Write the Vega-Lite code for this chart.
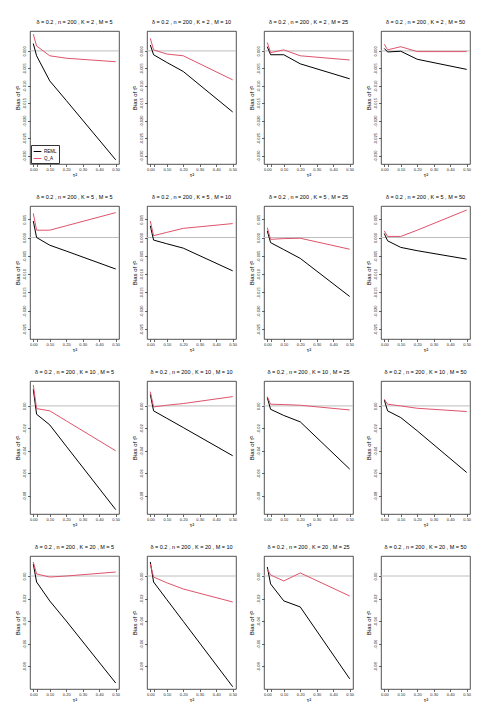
{
"$schema": "https://vega.github.io/schema/vega-lite/v6.json",
"padding": {"left": 14, "top": 19, "right": 5, "bottom": 5},
"datasets": {"d": [
{"K":2,"M":5,"tau2":0,"REML":0.0021,"Q_A":0.0048},{"K":2,"M":5,"tau2":0.02,"REML":-0.0014,"Q_A":0.0014},{"K":2,"M":5,"tau2":0.1,"REML":-0.0086,"Q_A":-0.0014},{"K":2,"M":5,"tau2":0.2,"REML":-0.0142,"Q_A":-0.0021},{"K":2,"M":5,"tau2":0.5,"REML":-0.0312,"Q_A":-0.0031},
{"K":2,"M":10,"tau2":0,"REML":0.0017,"Q_A":0.0036},{"K":2,"M":10,"tau2":0.02,"REML":-0.0011,"Q_A":0.0003},{"K":2,"M":10,"tau2":0.1,"REML":-0.0033,"Q_A":-0.0009},{"K":2,"M":10,"tau2":0.2,"REML":-0.0059,"Q_A":-0.0014},{"K":2,"M":10,"tau2":0.5,"REML":-0.0175,"Q_A":-0.0083},
{"K":2,"M":25,"tau2":0,"REML":0.0012,"Q_A":0.0024},{"K":2,"M":25,"tau2":0.02,"REML":-0.0011,"Q_A":-0.0005},{"K":2,"M":25,"tau2":0.1,"REML":-0.0011,"Q_A":0.0003},{"K":2,"M":25,"tau2":0.2,"REML":-0.0037,"Q_A":-0.0014},{"K":2,"M":25,"tau2":0.5,"REML":-0.008,"Q_A":-0.0026},
{"K":2,"M":50,"tau2":0,"REML":0.0007,"Q_A":0.0019},{"K":2,"M":50,"tau2":0.02,"REML":-0.0003,"Q_A":0.0003},{"K":2,"M":50,"tau2":0.1,"REML":-0.0001,"Q_A":0.0012},{"K":2,"M":50,"tau2":0.2,"REML":-0.0024,"Q_A":-0.0002},{"K":2,"M":50,"tau2":0.5,"REML":-0.0053,"Q_A":-0.0002},
{"K":5,"M":5,"tau2":0,"REML":0.0045,"Q_A":0.0066},{"K":5,"M":5,"tau2":0.02,"REML":0,"Q_A":0.002},{"K":5,"M":5,"tau2":0.1,"REML":-0.0021,"Q_A":0.002},{"K":5,"M":5,"tau2":0.2,"REML":-0.0037,"Q_A":0.0032},{"K":5,"M":5,"tau2":0.5,"REML":-0.0086,"Q_A":0.0068},
{"K":5,"M":10,"tau2":0,"REML":0.0032,"Q_A":0.0045},{"K":5,"M":10,"tau2":0.02,"REML":-0.0007,"Q_A":0.0005},{"K":5,"M":10,"tau2":0.1,"REML":-0.0017,"Q_A":0.0014},{"K":5,"M":10,"tau2":0.2,"REML":-0.0029,"Q_A":0.0025},{"K":5,"M":10,"tau2":0.5,"REML":-0.0091,"Q_A":0.0038},
{"K":5,"M":25,"tau2":0,"REML":0.0018,"Q_A":0.0027},{"K":5,"M":25,"tau2":0.02,"REML":-0.0014,"Q_A":-0.0005},{"K":5,"M":25,"tau2":0.1,"REML":-0.0033,"Q_A":-0.0003},{"K":5,"M":25,"tau2":0.2,"REML":-0.0057,"Q_A":-0.0002},{"K":5,"M":25,"tau2":0.5,"REML":-0.0161,"Q_A":-0.0032},
{"K":5,"M":50,"tau2":0,"REML":0.0011,"Q_A":0.0018},{"K":5,"M":50,"tau2":0.02,"REML":-0.0009,"Q_A":0.0003},{"K":5,"M":50,"tau2":0.1,"REML":-0.0027,"Q_A":0.0003},{"K":5,"M":50,"tau2":0.2,"REML":-0.0036,"Q_A":0.002},{"K":5,"M":50,"tau2":0.5,"REML":-0.0059,"Q_A":0.0075},
{"K":10,"M":5,"tau2":0,"REML":0.0148,"Q_A":0.0187},{"K":10,"M":5,"tau2":0.02,"REML":-0.0074,"Q_A":-0.0024},{"K":10,"M":5,"tau2":0.1,"REML":-0.0169,"Q_A":-0.0044},{"K":10,"M":5,"tau2":0.2,"REML":-0.0359,"Q_A":-0.0133},{"K":10,"M":5,"tau2":0.5,"REML":-0.0924,"Q_A":-0.04},
{"K":10,"M":10,"tau2":0,"REML":0.0104,"Q_A":0.0127},{"K":10,"M":10,"tau2":0.02,"REML":-0.0044,"Q_A":-0.0009},{"K":10,"M":10,"tau2":0.1,"REML":-0.011,"Q_A":0.0006},{"K":10,"M":10,"tau2":0.2,"REML":-0.0193,"Q_A":0.0021},{"K":10,"M":10,"tau2":0.5,"REML":-0.0444,"Q_A":0.0083},
{"K":10,"M":25,"tau2":0,"REML":0.0074,"Q_A":0.0083},{"K":10,"M":25,"tau2":0.02,"REML":-0.003,"Q_A":0.0015},{"K":10,"M":25,"tau2":0.1,"REML":-0.0085,"Q_A":0.0012},{"K":10,"M":25,"tau2":0.2,"REML":-0.0142,"Q_A":0.0006},{"K":10,"M":25,"tau2":0.5,"REML":-0.0563,"Q_A":-0.0036},
{"K":10,"M":50,"tau2":0,"REML":0.0053,"Q_A":0.0059},{"K":10,"M":50,"tau2":0.02,"REML":-0.0044,"Q_A":0.0015},{"K":10,"M":50,"tau2":0.1,"REML":-0.0104,"Q_A":0},{"K":10,"M":50,"tau2":0.2,"REML":-0.0222,"Q_A":-0.0021},{"K":10,"M":50,"tau2":0.5,"REML":-0.0593,"Q_A":-0.005},
{"K":20,"M":5,"tau2":0,"REML":0.0106,"Q_A":0.0124},{"K":20,"M":5,"tau2":0.02,"REML":-0.0053,"Q_A":0.0018},{"K":20,"M":5,"tau2":0.1,"REML":-0.0221,"Q_A":-0.0009},{"K":20,"M":5,"tau2":0.2,"REML":-0.0398,"Q_A":0},{"K":20,"M":5,"tau2":0.5,"REML":-0.0947,"Q_A":0.0035},
{"K":20,"M":10,"tau2":0,"REML":0.0124,"Q_A":0.0106},{"K":20,"M":10,"tau2":0.02,"REML":-0.0053,"Q_A":-0.0009},{"K":20,"M":10,"tau2":0.1,"REML":-0.0208,"Q_A":-0.006},{"K":20,"M":10,"tau2":0.2,"REML":-0.0401,"Q_A":-0.0115},{"K":20,"M":10,"tau2":0.5,"REML":-0.098,"Q_A":-0.023},
{"K":20,"M":25,"tau2":0,"REML":0.008,"Q_A":0.0062},{"K":20,"M":25,"tau2":0.02,"REML":-0.007,"Q_A":0.0009},{"K":20,"M":25,"tau2":0.1,"REML":-0.022,"Q_A":-0.0044},{"K":20,"M":25,"tau2":0.2,"REML":-0.0274,"Q_A":0.0027},{"K":20,"M":25,"tau2":0.5,"REML":-0.091,"Q_A":-0.0177}
]},
"data": {"name": "d"},
"columns": 4,
"spacing": {"row": 42, "column": 28},
"bounds": "flush",
"resolve": {"scale": {"color": "independent"}, "legend": {"color": "independent"}},
"concat": [
{"width":89,"height":133,"title":"δ = 0.2 , n = 200 , K = 2 , M = 5",
 "encoding":{"y":{"field":"bias","type":"quantitative","scale":{"domain":[-0.0324,0.0057],"nice":false,"zero":false},"axis":{"title":"Bias of τ̂²","labelOverlap":false,"values":[0,-0.005,-0.01,-0.015,-0.02,-0.025,-0.03],"labelExpr":"replace(format(datum.value, '.3f'), '−', '-')"}}},
 "layer":[
 {"data":{"values":[{"bias":0}]},"mark":{"type":"rule","color":"#BEBEBE","strokeWidth":1}},
 {"transform":[{"filter":"datum.K == 2 && datum.M == 5"},{"fold":["REML","Q_A"],"as":["est","bias"]}],"mark":{"type":"line","strokeWidth":1},"encoding":{
  "x":{"field":"tau2","type":"quantitative","scale":{"domain":[-0.02,0.52],"nice":false,"zero":false},"axis":{"title":"τ²","labelOverlap":false,"values":[0,0.02,0.1,0.2,0.3,0.4,0.5],"labelExpr":"datum.value == 0.02 ? '' : format(datum.value, '.2f')"}},
  "color":{"field":"est","type":"nominal","scale":{"domain":["REML","Q_A"],"range":["#000000","#DF536B"]},"legend":{"orient":"bottom-left","title":null,"symbolType":"stroke","strokeColor":"#333333","padding":2,"labelFontSize":4.5,"symbolSize":60,"symbolStrokeWidth":1,"rowPadding":0,"offset":1,"labelOffset":2,"cornerRadius":0,"fillColor":"white"}}}}
]},
{"width":89,"height":133,"title":"δ = 0.2 , n = 200 , K = 2 , M = 10",
 "encoding":{"y":{"field":"bias","type":"quantitative","scale":{"domain":[-0.0324,0.0057],"nice":false,"zero":false},"axis":{"title":"Bias of τ̂²","labelOverlap":false,"values":[0,-0.005,-0.01,-0.015,-0.02,-0.025,-0.03],"labelExpr":"replace(format(datum.value, '.3f'), '−', '-')"}}},
 "layer":[
 {"data":{"values":[{"bias":0}]},"mark":{"type":"rule","color":"#BEBEBE","strokeWidth":1}},
 {"transform":[{"filter":"datum.K == 2 && datum.M == 10"},{"fold":["REML","Q_A"],"as":["est","bias"]}],"mark":{"type":"line","strokeWidth":1},"encoding":{
  "x":{"field":"tau2","type":"quantitative","scale":{"domain":[-0.02,0.52],"nice":false,"zero":false},"axis":{"title":"τ²","labelOverlap":false,"values":[0,0.02,0.1,0.2,0.3,0.4,0.5],"labelExpr":"datum.value == 0.02 ? '' : format(datum.value, '.2f')"}},
  "color":{"field":"est","type":"nominal","scale":{"domain":["REML","Q_A"],"range":["#000000","#DF536B"]},"legend":null}}}
]},
{"width":89,"height":133,"title":"δ = 0.2 , n = 200 , K = 2 , M = 25",
 "encoding":{"y":{"field":"bias","type":"quantitative","scale":{"domain":[-0.0324,0.0057],"nice":false,"zero":false},"axis":{"title":"Bias of τ̂²","labelOverlap":false,"values":[0,-0.005,-0.01,-0.015,-0.02,-0.025,-0.03],"labelExpr":"replace(format(datum.value, '.3f'), '−', '-')"}}},
 "layer":[
 {"data":{"values":[{"bias":0}]},"mark":{"type":"rule","color":"#BEBEBE","strokeWidth":1}},
 {"transform":[{"filter":"datum.K == 2 && datum.M == 25"},{"fold":["REML","Q_A"],"as":["est","bias"]}],"mark":{"type":"line","strokeWidth":1},"encoding":{
  "x":{"field":"tau2","type":"quantitative","scale":{"domain":[-0.02,0.52],"nice":false,"zero":false},"axis":{"title":"τ²","labelOverlap":false,"values":[0,0.02,0.1,0.2,0.3,0.4,0.5],"labelExpr":"datum.value == 0.02 ? '' : format(datum.value, '.2f')"}},
  "color":{"field":"est","type":"nominal","scale":{"domain":["REML","Q_A"],"range":["#000000","#DF536B"]},"legend":null}}}
]},
{"width":89,"height":133,"title":"δ = 0.2 , n = 200 , K = 2 , M = 50",
 "encoding":{"y":{"field":"bias","type":"quantitative","scale":{"domain":[-0.0324,0.0057],"nice":false,"zero":false},"axis":{"title":"Bias of τ̂²","labelOverlap":false,"values":[0,-0.005,-0.01,-0.015,-0.02,-0.025,-0.03],"labelExpr":"replace(format(datum.value, '.3f'), '−', '-')"}}},
 "layer":[
 {"data":{"values":[{"bias":0}]},"mark":{"type":"rule","color":"#BEBEBE","strokeWidth":1}},
 {"transform":[{"filter":"datum.K == 2 && datum.M == 50"},{"fold":["REML","Q_A"],"as":["est","bias"]}],"mark":{"type":"line","strokeWidth":1},"encoding":{
  "x":{"field":"tau2","type":"quantitative","scale":{"domain":[-0.02,0.52],"nice":false,"zero":false},"axis":{"title":"τ²","labelOverlap":false,"values":[0,0.02,0.1,0.2,0.3,0.4,0.5],"labelExpr":"datum.value == 0.02 ? '' : format(datum.value, '.2f')"}},
  "color":{"field":"est","type":"nominal","scale":{"domain":["REML","Q_A"],"range":["#000000","#DF536B"]},"legend":null}}}
]},
{"width":89,"height":133,"title":"δ = 0.2 , n = 200 , K = 5 , M = 5",
 "encoding":{"y":{"field":"bias","type":"quantitative","scale":{"domain":[-0.0277,0.0086],"nice":false,"zero":false},"axis":{"title":"Bias of τ̂²","labelOverlap":false,"values":[0.005,0,-0.005,-0.01,-0.015,-0.02,-0.025],"labelExpr":"replace(format(datum.value, '.3f'), '−', '-')"}}},
 "layer":[
 {"data":{"values":[{"bias":0}]},"mark":{"type":"rule","color":"#BEBEBE","strokeWidth":1}},
 {"transform":[{"filter":"datum.K == 5 && datum.M == 5"},{"fold":["REML","Q_A"],"as":["est","bias"]}],"mark":{"type":"line","strokeWidth":1},"encoding":{
  "x":{"field":"tau2","type":"quantitative","scale":{"domain":[-0.02,0.52],"nice":false,"zero":false},"axis":{"title":"τ²","labelOverlap":false,"values":[0,0.02,0.1,0.2,0.3,0.4,0.5],"labelExpr":"datum.value == 0.02 ? '' : format(datum.value, '.2f')"}},
  "color":{"field":"est","type":"nominal","scale":{"domain":["REML","Q_A"],"range":["#000000","#DF536B"]},"legend":null}}}
]},
{"width":89,"height":133,"title":"δ = 0.2 , n = 200 , K = 5 , M = 10",
 "encoding":{"y":{"field":"bias","type":"quantitative","scale":{"domain":[-0.0277,0.0086],"nice":false,"zero":false},"axis":{"title":"Bias of τ̂²","labelOverlap":false,"values":[0.005,0,-0.005,-0.01,-0.015,-0.02,-0.025],"labelExpr":"replace(format(datum.value, '.3f'), '−', '-')"}}},
 "layer":[
 {"data":{"values":[{"bias":0}]},"mark":{"type":"rule","color":"#BEBEBE","strokeWidth":1}},
 {"transform":[{"filter":"datum.K == 5 && datum.M == 10"},{"fold":["REML","Q_A"],"as":["est","bias"]}],"mark":{"type":"line","strokeWidth":1},"encoding":{
  "x":{"field":"tau2","type":"quantitative","scale":{"domain":[-0.02,0.52],"nice":false,"zero":false},"axis":{"title":"τ²","labelOverlap":false,"values":[0,0.02,0.1,0.2,0.3,0.4,0.5],"labelExpr":"datum.value == 0.02 ? '' : format(datum.value, '.2f')"}},
  "color":{"field":"est","type":"nominal","scale":{"domain":["REML","Q_A"],"range":["#000000","#DF536B"]},"legend":null}}}
]},
{"width":89,"height":133,"title":"δ = 0.2 , n = 200 , K = 5 , M = 25",
 "encoding":{"y":{"field":"bias","type":"quantitative","scale":{"domain":[-0.0277,0.0086],"nice":false,"zero":false},"axis":{"title":"Bias of τ̂²","labelOverlap":false,"values":[0.005,0,-0.005,-0.01,-0.015,-0.02,-0.025],"labelExpr":"replace(format(datum.value, '.3f'), '−', '-')"}}},
 "layer":[
 {"data":{"values":[{"bias":0}]},"mark":{"type":"rule","color":"#BEBEBE","strokeWidth":1}},
 {"transform":[{"filter":"datum.K == 5 && datum.M == 25"},{"fold":["REML","Q_A"],"as":["est","bias"]}],"mark":{"type":"line","strokeWidth":1},"encoding":{
  "x":{"field":"tau2","type":"quantitative","scale":{"domain":[-0.02,0.52],"nice":false,"zero":false},"axis":{"title":"τ²","labelOverlap":false,"values":[0,0.02,0.1,0.2,0.3,0.4,0.5],"labelExpr":"datum.value == 0.02 ? '' : format(datum.value, '.2f')"}},
  "color":{"field":"est","type":"nominal","scale":{"domain":["REML","Q_A"],"range":["#000000","#DF536B"]},"legend":null}}}
]},
{"width":89,"height":133,"title":"δ = 0.2 , n = 200 , K = 5 , M = 50",
 "encoding":{"y":{"field":"bias","type":"quantitative","scale":{"domain":[-0.0277,0.0086],"nice":false,"zero":false},"axis":{"title":"Bias of τ̂²","labelOverlap":false,"values":[0.005,0,-0.005,-0.01,-0.015,-0.02,-0.025],"labelExpr":"replace(format(datum.value, '.3f'), '−', '-')"}}},
 "layer":[
 {"data":{"values":[{"bias":0}]},"mark":{"type":"rule","color":"#BEBEBE","strokeWidth":1}},
 {"transform":[{"filter":"datum.K == 5 && datum.M == 50"},{"fold":["REML","Q_A"],"as":["est","bias"]}],"mark":{"type":"line","strokeWidth":1},"encoding":{
  "x":{"field":"tau2","type":"quantitative","scale":{"domain":[-0.02,0.52],"nice":false,"zero":false},"axis":{"title":"τ²","labelOverlap":false,"values":[0,0.02,0.1,0.2,0.3,0.4,0.5],"labelExpr":"datum.value == 0.02 ? '' : format(datum.value, '.2f')"}},
  "color":{"field":"est","type":"nominal","scale":{"domain":["REML","Q_A"],"range":["#000000","#DF536B"]},"legend":null}}}
]},
{"width":89,"height":133,"title":"δ = 0.2 , n = 200 , K = 10 , M = 5",
 "encoding":{"y":{"field":"bias","type":"quantitative","scale":{"domain":[-0.0963,0.0222],"nice":false,"zero":false},"axis":{"title":"Bias of τ̂²","labelOverlap":false,"values":[0,-0.02,-0.04,-0.06,-0.08],"labelExpr":"replace(format(datum.value, '.2f'), '−', '-')"}}},
 "layer":[
 {"data":{"values":[{"bias":0}]},"mark":{"type":"rule","color":"#BEBEBE","strokeWidth":1}},
 {"transform":[{"filter":"datum.K == 10 && datum.M == 5"},{"fold":["REML","Q_A"],"as":["est","bias"]}],"mark":{"type":"line","strokeWidth":1},"encoding":{
  "x":{"field":"tau2","type":"quantitative","scale":{"domain":[-0.02,0.52],"nice":false,"zero":false},"axis":{"title":"τ²","labelOverlap":false,"values":[0,0.02,0.1,0.2,0.3,0.4,0.5],"labelExpr":"datum.value == 0.02 ? '' : format(datum.value, '.2f')"}},
  "color":{"field":"est","type":"nominal","scale":{"domain":["REML","Q_A"],"range":["#000000","#DF536B"]},"legend":null}}}
]},
{"width":89,"height":133,"title":"δ = 0.2 , n = 200 , K = 10 , M = 10",
 "encoding":{"y":{"field":"bias","type":"quantitative","scale":{"domain":[-0.0963,0.0222],"nice":false,"zero":false},"axis":{"title":"Bias of τ̂²","labelOverlap":false,"values":[0,-0.02,-0.04,-0.06,-0.08],"labelExpr":"replace(format(datum.value, '.2f'), '−', '-')"}}},
 "layer":[
 {"data":{"values":[{"bias":0}]},"mark":{"type":"rule","color":"#BEBEBE","strokeWidth":1}},
 {"transform":[{"filter":"datum.K == 10 && datum.M == 10"},{"fold":["REML","Q_A"],"as":["est","bias"]}],"mark":{"type":"line","strokeWidth":1},"encoding":{
  "x":{"field":"tau2","type":"quantitative","scale":{"domain":[-0.02,0.52],"nice":false,"zero":false},"axis":{"title":"τ²","labelOverlap":false,"values":[0,0.02,0.1,0.2,0.3,0.4,0.5],"labelExpr":"datum.value == 0.02 ? '' : format(datum.value, '.2f')"}},
  "color":{"field":"est","type":"nominal","scale":{"domain":["REML","Q_A"],"range":["#000000","#DF536B"]},"legend":null}}}
]},
{"width":89,"height":133,"title":"δ = 0.2 , n = 200 , K = 10 , M = 25",
 "encoding":{"y":{"field":"bias","type":"quantitative","scale":{"domain":[-0.0963,0.0222],"nice":false,"zero":false},"axis":{"title":"Bias of τ̂²","labelOverlap":false,"values":[0,-0.02,-0.04,-0.06,-0.08],"labelExpr":"replace(format(datum.value, '.2f'), '−', '-')"}}},
 "layer":[
 {"data":{"values":[{"bias":0}]},"mark":{"type":"rule","color":"#BEBEBE","strokeWidth":1}},
 {"transform":[{"filter":"datum.K == 10 && datum.M == 25"},{"fold":["REML","Q_A"],"as":["est","bias"]}],"mark":{"type":"line","strokeWidth":1},"encoding":{
  "x":{"field":"tau2","type":"quantitative","scale":{"domain":[-0.02,0.52],"nice":false,"zero":false},"axis":{"title":"τ²","labelOverlap":false,"values":[0,0.02,0.1,0.2,0.3,0.4,0.5],"labelExpr":"datum.value == 0.02 ? '' : format(datum.value, '.2f')"}},
  "color":{"field":"est","type":"nominal","scale":{"domain":["REML","Q_A"],"range":["#000000","#DF536B"]},"legend":null}}}
]},
{"width":89,"height":133,"title":"δ = 0.2 , n = 200 , K = 10 , M = 50",
 "encoding":{"y":{"field":"bias","type":"quantitative","scale":{"domain":[-0.0963,0.0222],"nice":false,"zero":false},"axis":{"title":"Bias of τ̂²","labelOverlap":false,"values":[0,-0.02,-0.04,-0.06,-0.08],"labelExpr":"replace(format(datum.value, '.2f'), '−', '-')"}}},
 "layer":[
 {"data":{"values":[{"bias":0}]},"mark":{"type":"rule","color":"#BEBEBE","strokeWidth":1}},
 {"transform":[{"filter":"datum.K == 10 && datum.M == 50"},{"fold":["REML","Q_A"],"as":["est","bias"]}],"mark":{"type":"line","strokeWidth":1},"encoding":{
  "x":{"field":"tau2","type":"quantitative","scale":{"domain":[-0.02,0.52],"nice":false,"zero":false},"axis":{"title":"τ²","labelOverlap":false,"values":[0,0.02,0.1,0.2,0.3,0.4,0.5],"labelExpr":"datum.value == 0.02 ? '' : format(datum.value, '.2f')"}},
  "color":{"field":"est","type":"nominal","scale":{"domain":["REML","Q_A"],"range":["#000000","#DF536B"]},"legend":null}}}
]},
{"width":89,"height":133,"title":"δ = 0.2 , n = 200 , K = 20 , M = 5",
 "encoding":{"y":{"field":"bias","type":"quantitative","scale":{"domain":[-0.1,0.0177],"nice":false,"zero":false},"axis":{"title":"Bias of τ̂²","labelOverlap":false,"values":[0,-0.02,-0.04,-0.06,-0.08],"labelExpr":"replace(format(datum.value, '.2f'), '−', '-')"}}},
 "layer":[
 {"data":{"values":[{"bias":0}]},"mark":{"type":"rule","color":"#BEBEBE","strokeWidth":1}},
 {"transform":[{"filter":"datum.K == 20 && datum.M == 5"},{"fold":["REML","Q_A"],"as":["est","bias"]}],"mark":{"type":"line","strokeWidth":1},"encoding":{
  "x":{"field":"tau2","type":"quantitative","scale":{"domain":[-0.02,0.52],"nice":false,"zero":false},"axis":{"title":"τ²","labelOverlap":false,"values":[0,0.02,0.1,0.2,0.3,0.4,0.5],"labelExpr":"datum.value == 0.02 ? '' : format(datum.value, '.2f')"}},
  "color":{"field":"est","type":"nominal","scale":{"domain":["REML","Q_A"],"range":["#000000","#DF536B"]},"legend":null}}}
]},
{"width":89,"height":133,"title":"δ = 0.2 , n = 200 , K = 20 , M = 10",
 "encoding":{"y":{"field":"bias","type":"quantitative","scale":{"domain":[-0.1,0.0177],"nice":false,"zero":false},"axis":{"title":"Bias of τ̂²","labelOverlap":false,"values":[0,-0.02,-0.04,-0.06,-0.08],"labelExpr":"replace(format(datum.value, '.2f'), '−', '-')"}}},
 "layer":[
 {"data":{"values":[{"bias":0}]},"mark":{"type":"rule","color":"#BEBEBE","strokeWidth":1}},
 {"transform":[{"filter":"datum.K == 20 && datum.M == 10"},{"fold":["REML","Q_A"],"as":["est","bias"]}],"mark":{"type":"line","strokeWidth":1},"encoding":{
  "x":{"field":"tau2","type":"quantitative","scale":{"domain":[-0.02,0.52],"nice":false,"zero":false},"axis":{"title":"τ²","labelOverlap":false,"values":[0,0.02,0.1,0.2,0.3,0.4,0.5],"labelExpr":"datum.value == 0.02 ? '' : format(datum.value, '.2f')"}},
  "color":{"field":"est","type":"nominal","scale":{"domain":["REML","Q_A"],"range":["#000000","#DF536B"]},"legend":null}}}
]},
{"width":89,"height":133,"title":"δ = 0.2 , n = 200 , K = 20 , M = 25",
 "encoding":{"y":{"field":"bias","type":"quantitative","scale":{"domain":[-0.1,0.0177],"nice":false,"zero":false},"axis":{"title":"Bias of τ̂²","labelOverlap":false,"values":[0,-0.02,-0.04,-0.06,-0.08],"labelExpr":"replace(format(datum.value, '.2f'), '−', '-')"}}},
 "layer":[
 {"data":{"values":[{"bias":0}]},"mark":{"type":"rule","color":"#BEBEBE","strokeWidth":1}},
 {"transform":[{"filter":"datum.K == 20 && datum.M == 25"},{"fold":["REML","Q_A"],"as":["est","bias"]}],"mark":{"type":"line","strokeWidth":1},"encoding":{
  "x":{"field":"tau2","type":"quantitative","scale":{"domain":[-0.02,0.52],"nice":false,"zero":false},"axis":{"title":"τ²","labelOverlap":false,"values":[0,0.02,0.1,0.2,0.3,0.4,0.5],"labelExpr":"datum.value == 0.02 ? '' : format(datum.value, '.2f')"}},
  "color":{"field":"est","type":"nominal","scale":{"domain":["REML","Q_A"],"range":["#000000","#DF536B"]},"legend":null}}}
]},
{"width":89,"height":133,"title":"δ = 0.2 , n = 200 , K = 20 , M = 50",
 "encoding":{"y":{"field":"bias","type":"quantitative","scale":{"domain":[-0.1,0.0177],"nice":false,"zero":false},"axis":{"title":"Bias of τ̂²","labelOverlap":false,"values":[0,-0.02,-0.04,-0.06,-0.08],"labelExpr":"replace(format(datum.value, '.2f'), '−', '-')"}}},
 "layer":[
 {"data":{"values":[{"bias":0}]},"mark":{"type":"rule","color":"#BEBEBE","strokeWidth":1}},
 {"transform":[{"filter":"datum.K == 20 && datum.M == 50"},{"fold":["REML","Q_A"],"as":["est","bias"]}],"mark":{"type":"line","strokeWidth":1},"encoding":{
  "x":{"field":"tau2","type":"quantitative","scale":{"domain":[-0.02,0.52],"nice":false,"zero":false},"axis":{"title":"τ²","labelOverlap":false,"values":[0,0.02,0.1,0.2,0.3,0.4,0.5],"labelExpr":"datum.value == 0.02 ? '' : format(datum.value, '.2f')"}},
  "color":{"field":"est","type":"nominal","scale":{"domain":["REML","Q_A"],"range":["#000000","#DF536B"]},"legend":null}}}
]}
],
"config": {
 "font": "Liberation Sans",
 "view": {"stroke": "#262626", "strokeWidth": 0.8},
 "axis": {"domain": false, "grid": false, "tickSize": 2.5, "tickColor": "#262626", "tickWidth": 0.7, "labelFontSize": 4, "labelColor": "#222222", "labelPadding": 1, "titleFontSize": 6, "titleFontWeight": "normal", "titleColor": "#000000", "labelFlush": false, "labelOverlap": false},
 "axisY": {"titlePadding": 2, "labelAngle": -90, "labelAlign": "center", "labelBaseline": "bottom"},
 "axisX": {"titlePadding": 0, "titleColor": "#000000"},
 "title": {"fontSize": 5.5, "fontWeight": "normal", "offset": 6, "frame": "group", "color": "#000000"}
}
}
